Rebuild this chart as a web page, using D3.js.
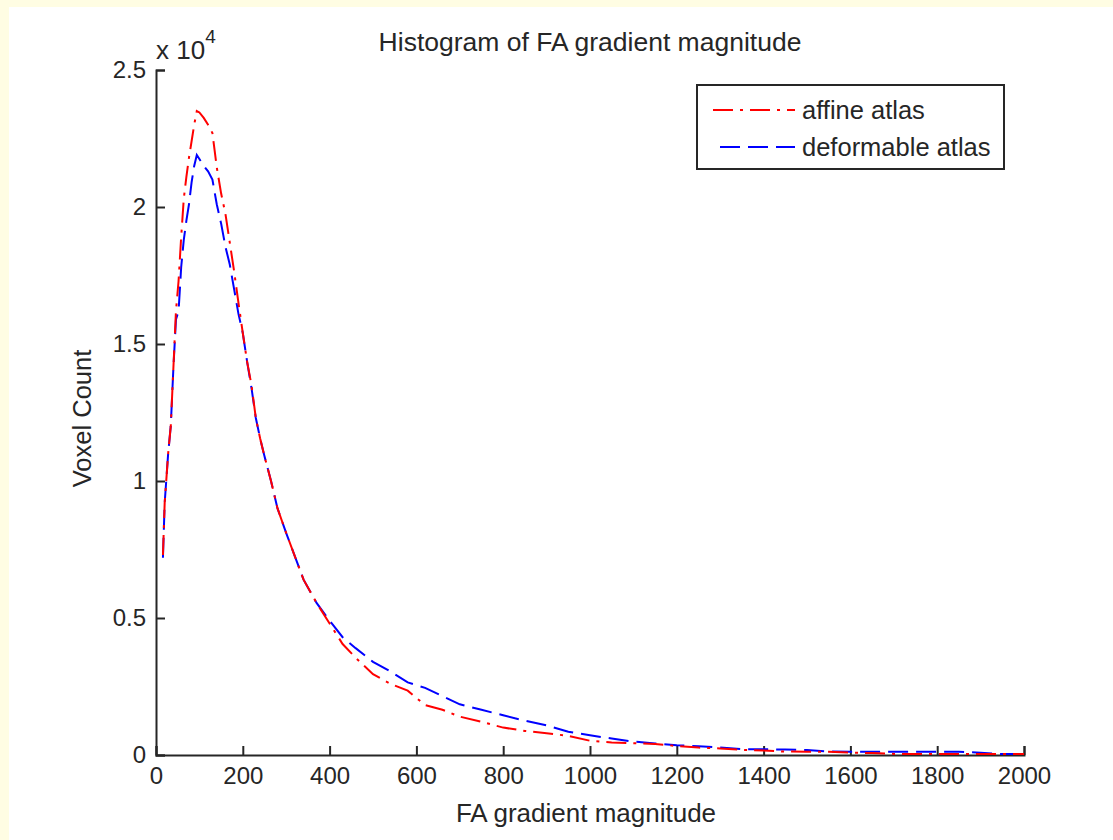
<!DOCTYPE html>
<html>
<head>
<meta charset="utf-8">
<script src="https://cdn.jsdelivr.net/npm/d3@7"></script>
<style>
  html, body { margin: 0; padding: 0; background: #fffde3; }
  svg { display: block; }
  text { font-family: "Liberation Sans", Arial, sans-serif; fill: #262626; }
</style>
</head>
<body>
<div id="chart"></div>
<script>
'use strict';

// bin centres (FA gradient magnitude)
var bins = [16, 20, 28, 34, 40, 46, 52, 58, 64, 70, 76, 82, 88, 94, 100, 110, 120, 130, 140, 150,
  160, 170, 180, 190, 200, 210, 220, 230, 240, 250, 265, 280, 300, 320, 340, 370, 400, 430, 460, 500,
  540, 580, 620, 660, 700, 750, 800, 850, 900, 950, 1000, 1050, 1100, 1150, 1200, 1250, 1300, 1350,
  1400, 1450, 1500, 1550, 1600, 1650, 1700, 1750, 1800, 1850, 1900, 1950, 2000];

var affineCounts = [7300, 9200, 11000, 12000, 14100, 16200, 17300, 18900, 20300, 21100, 21800, 22400,
  23000, 23500, 23450, 23250, 23000, 22700, 21450, 20500, 19750, 18700, 17650, 16500, 15400, 14350,
  13500, 12300, 11550, 10900, 10000, 9000, 8100, 7250, 6400, 5550, 4800, 4050, 3550, 2950, 2600, 2350,
  1820, 1650, 1400, 1210, 1000, 880, 790, 700, 520, 460, 430, 400, 330, 270, 240, 190, 160, 125, 121,
  120, 85, 70, 40, 36, 36, 36, 36, 36, 40];

var deformableCounts = [7200, 9200, 11000, 12000, 14100, 15900, 16200, 17800, 18800, 19500, 20100,
  20900, 21500, 21900, 21750, 21500, 21300, 21000, 20100, 19400, 18550, 17900, 17000, 16100, 15400,
  14350, 13400, 12300, 11550, 10900, 10000, 9000, 8100, 7250, 6400, 5550, 4900, 4300, 3900, 3400, 3050,
  2650, 2450, 2150, 1850, 1650, 1450, 1250, 1080, 850, 720, 600, 490, 420, 360, 320, 270, 210, 208, 200,
  180, 125, 121, 121, 121, 121, 121, 121, 80, 36, 36, 36];

var xTicks = [0, 200, 400, 600, 800, 1000, 1200, 1400, 1600, 1800, 2000];
var yTicks = [0, 5000, 10000, 15000, 20000, 25000];
var yTickLabels = ['0', '0.5', '1', '1.5', '2', '2.5'];

var seriesNames = ['affine atlas', 'deformable atlas'];

var width = 1113, height = 840;
var margin = { left: 156, top: 70, right: 89, bottom: 85 };
var innerWidth = width - margin.left - margin.right;
var innerHeight = height - margin.top - margin.bottom;

var root = d3.select('#chart').append('svg')
  .attr('width', width)
  .attr('height', height);

// figure panel
root.append('rect')
  .attr('x', 9).attr('y', 7)
  .attr('width', width - 9).attr('height', height - 7)
  .attr('fill', '#ffffff');

var chart = root.append('g')
  .attr('transform', 'translate(' + margin.left + ',' + margin.top + ')');

var xData = d3.scaleLinear().domain([0, 2000]).range([0, innerWidth]);
var yData = d3.scaleLinear().domain([0, 25000]).range([innerHeight, 0]);

var xAxis = d3.axisBottom(xData)
  .tickValues(xTicks)
  .tickSize(-9)
  .tickPadding(20)
  .tickFormat(d3.format('d'));

var yAxis = d3.axisLeft(yData)
  .tickValues(yTicks)
  .tickSize(-9)
  .tickPadding(20)
  .tickFormat(function(d, i) { return yTickLabels[i]; });

var gx = chart.append('g')
  .attr('class', 'xAxis')
  .attr('transform', 'translate(0,' + innerHeight + ')')
  .call(xAxis);

var gy = chart.append('g')
  .attr('class', 'yAxis')
  .call(yAxis);

[gx, gy].forEach(function(g) {
  g.select('.domain').attr('stroke', '#262626').attr('stroke-width', 2);
  g.selectAll('.tick line').attr('stroke', '#262626').attr('stroke-width', 2);
  g.selectAll('.tick text')
    .attr('font-size', 24)
    .attr('font-family', '"Liberation Sans", Arial, sans-serif')
    .attr('fill', '#262626');
});
gx.selectAll('.tick text').attr('dy', '0.71em').attr('y', 12);
gy.selectAll('.tick text').attr('x', -10);

var line = d3.line()
  .x(function(d) { return xData(d[0]); })
  .y(function(d) { return yData(d[1]); });

var affineData = bins.map(function(b, i) { return [b, affineCounts[i]]; });
var deformableData = bins.map(function(b, i) { return [b, deformableCounts[i]]; });

chart.append('path')
  .datum(deformableData)
  .attr('class', 'deformable line')
  .attr('fill', 'none')
  .attr('stroke', '#0000ff')
  .attr('stroke-width', 2)
  .attr('stroke-dasharray', '20,8')
  .attr('d', line);

chart.append('path')
  .datum(affineData)
  .attr('class', 'affine line')
  .attr('fill', 'none')
  .attr('stroke', '#ff0000')
  .attr('stroke-width', 2)
  .attr('stroke-dasharray', '20,7,3,7')
  .attr('d', line);

// exponent label
var expo = root.append('text')
  .attr('x', 156).attr('y', 59)
  .attr('font-size', 26);
expo.append('tspan').text('x 10');
expo.append('tspan').attr('dy', -16).attr('font-size', 19).text('4');

// title and axis labels
root.append('text')
  .attr('x', margin.left + innerWidth / 2).attr('y', 51)
  .attr('text-anchor', 'middle')
  .attr('font-size', 26.5)
  .text('Histogram of FA gradient magnitude');

root.append('text')
  .attr('x', 586).attr('y', 822)
  .attr('text-anchor', 'middle')
  .attr('font-size', 26)
  .text('FA gradient magnitude');

root.append('text')
  .attr('transform', 'translate(91,' + (margin.top + innerHeight / 2 + 6) + ') rotate(-90)')
  .attr('text-anchor', 'middle')
  .attr('font-size', 25.5)
  .text('Voxel Count');

// legend
var legend = root.append('g').attr('transform', 'translate(697,85)');
legend.append('rect')
  .attr('width', 307).attr('height', 84)
  .attr('fill', '#ffffff')
  .attr('stroke', '#262626')
  .attr('stroke-width', 2);

var legendStyles = [
  { color: '#ff0000', dash: '20,7,3,7', x0: 16 },
  { color: '#0000ff', dash: '20,8', x0: 23 }
];

seriesNames.forEach(function(name, i) {
  var yy = 25 + i * 37;
  legend.append('line')
    .attr('x1', legendStyles[i].x0).attr('x2', 98)
    .attr('y1', yy).attr('y2', yy)
    .attr('stroke', legendStyles[i].color)
    .attr('stroke-width', 2)
    .attr('stroke-dasharray', legendStyles[i].dash);
  legend.append('text')
    .attr('x', 105).attr('y', yy)
    .attr('dy', '0.35em')
    .attr('font-size', 25.5)
    .text(name);
});
</script>
</body>
</html>
